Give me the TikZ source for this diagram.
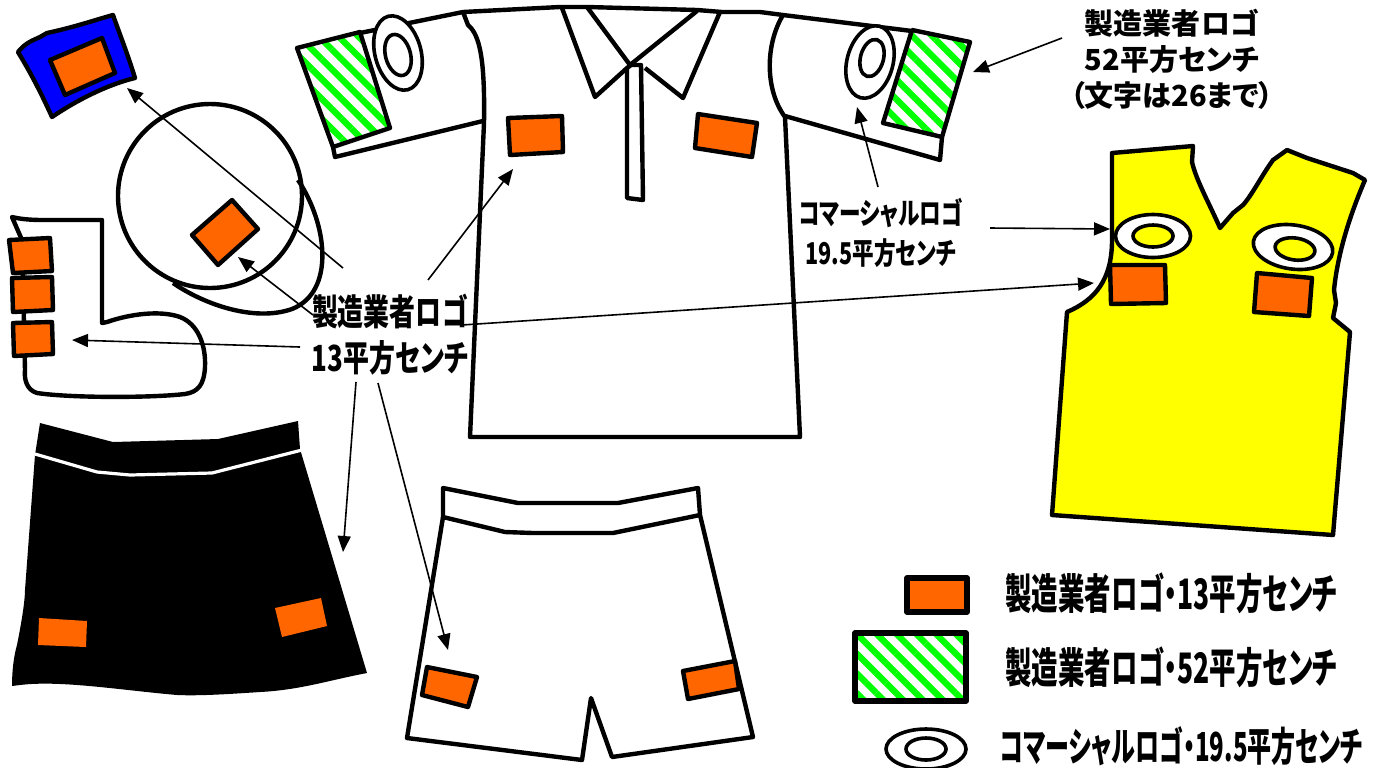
\documentclass[tikz,border=0pt]{standalone}
\usepackage{fontspec}
\newfontfamily\jpfont[FakeStretch=0.72,RawFeature=+palt]{Noto Sans CJK JP Black}
\newfontfamily\jpnarrow[FakeStretch=0.63,RawFeature=+palt]{Noto Sans CJK JP Black}
\newfontfamily\jpkana[FakeStretch=0.6,RawFeature=+palt]{Noto Sans CJK JP Black}
\newfontfamily\jpwide[RawFeature=+palt]{Noto Sans CJK JP Black}
\usetikzlibrary{arrows.meta,patterns.meta}
\definecolor{logoorange}{RGB}{255,102,0}
\definecolor{capblue}{RGB}{0,0,255}
\definecolor{vestyellow}{RGB}{255,255,0}
\definecolor{stripegreen}{RGB}{0,255,0}

\begin{document}
\begin{tikzpicture}[x=0.5pt,y=-0.5pt,
    garment/.style={draw=black, line width=2.2pt, line join=round},
    logobox/.style={garment, fill=logoorange},
    bigpatch/.style={garment, preaction={fill=white},
        pattern={Lines[angle=-45,distance=7pt,line width=3.2pt]}, pattern color=stripegreen},
    ring/.style={draw=black, line width=1.8pt, fill=white},
    callout/.style={-{Triangle[length=8pt,width=6.5pt]}, line width=0.8pt},
    tag/.style={align=center, inner sep=0pt, font=\jpfont\fontsize{18}{23}\selectfont},
    legtext/.style={anchor=west, inner sep=0pt, font=\jpnarrow\fontsize{21}{25}\selectfont}
]
\useasboundingbox (0,0) rectangle (1379,767);

% 帽子のワッペン
\draw[garment, fill=capblue] (18,52) .. controls (26,42) and (34,40) .. (40,37) -- (47,33)
  .. controls (75,27) and (95,20) .. (113,15) .. controls (120,35) and (128,55) .. (135,78)
  .. controls (110,84) and (80,98) .. (52,117) .. controls (42,95) and (32,75) .. (18,52) -- cycle;
\draw[logobox] (50,60) -- (102,38) -- (115,73) -- (65,95) -- cycle;

% 帽子
\draw[garment, fill=white] (210,196) circle [radius=92];
\draw[garment] (298,180) .. controls (328,225) and (335,292) .. (292,309)
  .. controls (255,322) and (205,305) .. (173,283);
\draw[logobox] (192,235) -- (232,200) -- (258,229) -- (218,265) -- cycle;

% ソックス
\draw[garment] (12,217) .. controls (20,219) and (30,220) .. (43,220) -- (102,220) -- (102,323)
  -- (107,322) .. controls (130,314) and (160,310) .. (180,317)
  .. controls (198,324) and (206,345) .. (205,367) .. controls (204,385) and (198,392) .. (185,394)
  .. controls (150,398) and (70,398) .. (37,393) .. controls (27,390) and (24,380) .. (25,370)
  -- (22,240) -- cycle;
\draw[logobox] (9,240) -- (50,238) -- (52,271) -- (13,273) -- cycle;
\draw[logobox] (12,278) -- (52,277) -- (53,310) -- (13,312) -- cycle;
\draw[logobox] (13,323) -- (52,322) -- (53,354) -- (14,356) -- cycle;

% シャツ
\draw[garment, fill=white] (463,12) -- (560,7) -- (587,7) -- (697,10) -- (722,12) -- (760,12)
  -- (783,15) .. controls (765,45) and (765,90) .. (785,117) -- (800,437) -- (470,437)
  -- (484,123) .. controls (485,60) and (480,35) .. (468,25) -- cycle;
\draw[garment] (360,33) -- (463,12);
\draw[garment] (333,147) -- (335,157) -- (483,121);
\draw[garment] (783,15) -- (912,31);
\draw[garment] (785,116) -- (940,160) -- (942,137);
\draw[bigpatch] (297,48) -- (360,32) -- (390,128) -- (333,147) -- cycle;
\draw[bigpatch] (912,30) -- (970,42) -- (942,137) -- (883,123) -- cycle;
\draw[ring, rotate around={15:(398,53)}] (398,53) ellipse [x radius=23, y radius=38];
\draw[ring, rotate around={15:(398,55)}] (398,55) ellipse [x radius=12.5, y radius=21];
\draw[ring, rotate around={-15:(870,62)}] (870,62) ellipse [x radius=23, y radius=37];
\draw[ring, rotate around={-15:(872,58)}] (872,58) ellipse [x radius=11.5, y radius=19];
% 襟と前立て
\draw[garment] (562,8) -- (595,97) -- (627,68);
\draw[garment] (587,7) -- (630,65) -- (697,11);
\draw[garment] (720,12) -- (683,98) -- (645,68);
\draw[garment, fill=white] (627,198) -- (627,68) -- (631,65) -- (641,65) -- (643,200) -- cycle;
\draw[logobox] (508,118) -- (562,116) -- (563,152) -- (510,155) -- cycle;
\draw[logobox] (698,114) -- (757,123) -- (752,157) -- (695,148) -- cycle;

% ベスト
\draw[garment, fill=vestyellow] (1112,153) -- (1193,146) -- (1192,162)
  .. controls (1196,180) and (1210,205) .. (1220,228) -- (1233,213) -- (1243,205)
  .. controls (1252,195) and (1262,175) .. (1273,160) -- (1287,150) -- (1307,158) -- (1353,173)
  -- (1365,180) .. controls (1352,210) and (1338,250) .. (1334,290) -- (1336,303) -- (1333,318)
  -- (1350,332) -- (1333,535) -- (1052,515) -- (1067,312)
  .. controls (1095,300) and (1112,280) .. (1112,240) -- cycle;
\draw[ring] (1153,236) ellipse [x radius=37.5, y radius=21.5];
\draw[ring, fill=vestyellow] (1153,236) ellipse [x radius=20, y radius=11];
\draw[ring, rotate around={-8:(1293,247)}] (1293,247) ellipse [x radius=40, y radius=22];
\draw[ring, fill=vestyellow, rotate around={-8:(1295,249)}] (1295,249) ellipse [x radius=20, y radius=11];
\draw[logobox] (1110,265) -- (1165,265) -- (1166,303) -- (1111,304) -- cycle;
\draw[logobox] (1257,273) -- (1312,278) -- (1309,316) -- (1254,312) -- cycle;

% スカート
\fill (40,423) -- (113,442) -- (218,439) -- (298,421) -- (300,449) -- (367,673)
  .. controls (330,680) and (300,690) .. (260,692) .. controls (230,694) and (200,696) .. (177,695)
  .. controls (120,690) and (60,680) .. (20,685) -- (12,686)
  .. controls (12,670) and (14,655) .. (17,645) .. controls (22,620) and (25,600) .. (25,590)
  -- (35,455) -- cycle;
\draw[white, line width=1.6pt] (35,454) -- (97,472) -- (130,475) -- (212,473) -- (302,450);
\fill[logoorange] (39,618) -- (87,621) -- (86,647) -- (38,645) -- cycle;
\fill[logoorange] (275,608) -- (321,598) -- (327,626) -- (282,637) -- cycle;

% ショーツ
\draw[garment, fill=white] (443,517) -- (407,738) -- (582,760) -- (591,698) -- (612,757)
  -- (753,737) -- (700,515);
\draw[garment, fill=white] (443,488) -- (518,503) -- (618,503) -- (698,488) -- (700,515)
  -- (613,533) -- (533,533) -- (505,532) -- (443,517) -- cycle;
\draw[logobox] (427,667) -- (477,677) -- (468,707) -- (422,695) -- cycle;
\draw[logobox] (683,671) -- (735,661) -- (739,689) -- (688,699) -- cycle;

% 凡例
\draw[logobox, line width=2.6pt] (907,578) rectangle (967,612);
\draw[bigpatch, line width=2.6pt] (855,633) rectangle (966,701);
\draw[ring] (926,749) ellipse [x radius=40, y radius=20];
\draw[ring] (926,749) ellipse [x radius=20, y radius=11];
\node[legtext] (leg13) at (1005,593) {製造業者ロゴ・13平方センチ};
\node[legtext] (leg52) at (1005,667) {製造業者ロゴ・52平方センチ};
\node[legtext, font=\jpkana\fontsize{20}{24}\selectfont] (legcm) at (1000,746)
  {コマーシャルロゴ・19.5平方センチ};

% ラベル
\node[tag] (lblSmall) at (390,335) {製造業者ロゴ\\13平方センチ};
\node[tag, font=\jpwide\fontsize{14.5}{18}\selectfont] (lblLarge) at (1172,59)
  {製造業者ロゴ\\52平方センチ\\（文字は26まで）};
\node[tag, font=\jpfont\fontsize{15}{20}\selectfont] (lblComm) at (881,233)
  {コマーシャルロゴ\\19.5平方センチ};

% 矢印
\coordinate (sCap) at (343,268);   \coordinate (tCap) at (127,88);
\coordinate (sHat) at (313,315);   \coordinate (tHat) at (238,257);
\coordinate (sShirt) at (428,280); \coordinate (tShirt) at (513,169);
\coordinate (sVest) at (462,325);  \coordinate (tVest) at (1094,283);
\coordinate (sSock) at (300,347);  \coordinate (tSock) at (72,340);
\coordinate (sSkirt) at (356,382); \coordinate (tSkirt) at (343,552);
\coordinate (sShorts) at (378,383); \coordinate (tShorts) at (448,650);
\coordinate (sSleeve) at (878,187); \coordinate (tSleeve) at (857,107);
\coordinate (sRing) at (990,228);  \coordinate (tRing) at (1110,229);
\coordinate (sPatch) at (1062,38); \coordinate (tPatch) at (973,72);
\foreach \s/\t in {sCap/tCap, sHat/tHat, sShirt/tShirt, sVest/tVest, sSock/tSock,
    sSkirt/tSkirt, sShorts/tShorts, sSleeve/tSleeve, sRing/tRing, sPatch/tPatch}
  \draw[callout] (\s) -- (\t);

\end{tikzpicture}
\end{document}
